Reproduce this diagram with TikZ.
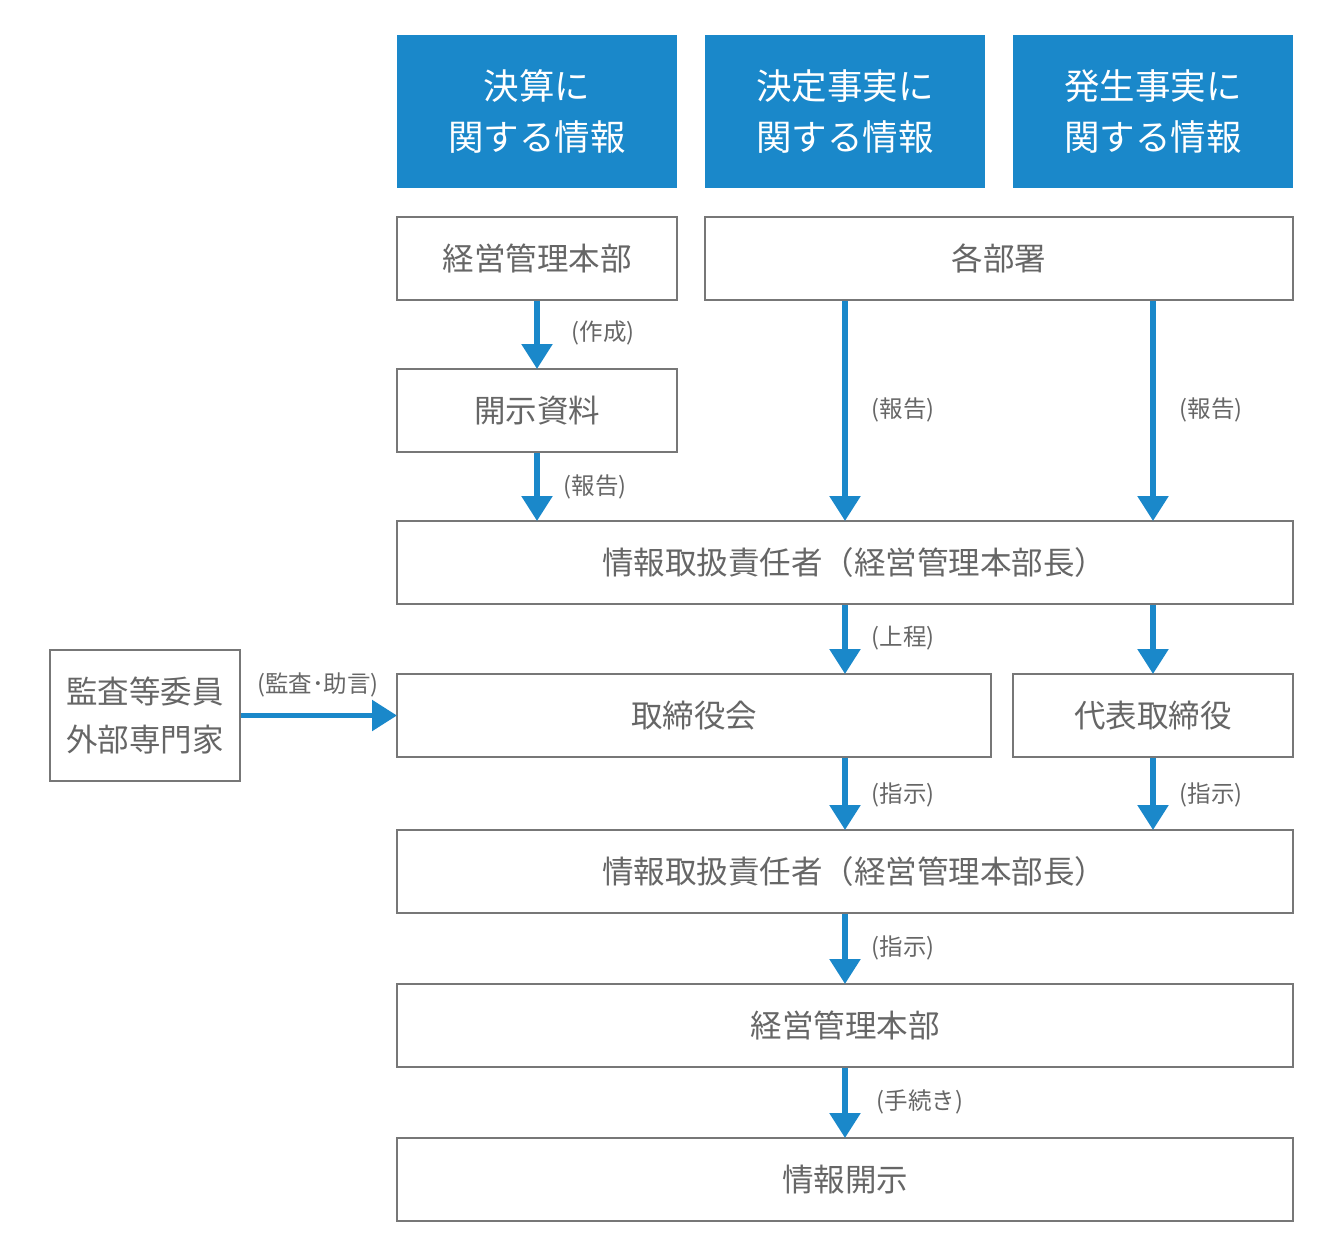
\documentclass[tikz,border=0pt]{standalone}
\usepackage{fontspec}
\setmainfont{Noto Sans CJK JP}
\usetikzlibrary{arrows.meta}
\definecolor{hblue}{HTML}{1A88CA}
\definecolor{bgray}{HTML}{777777}
\definecolor{tgray}{HTML}{666666}
\begin{document}
\begin{tikzpicture}[x=1pt,y=-1pt,
  hdr/.style={fill=hblue,draw=none,text=white,minimum width=280pt,minimum height=153pt,inner sep=0pt,align=center,font=\fontsize{35.5}{51}\selectfont},
  box/.style={draw=bgray,line width=2pt,fill=white,text=tgray,minimum height=83pt,inner sep=0pt,align=center,font=\fontsize{31.5}{48}\selectfont},
  flow/.style={draw=hblue,line width=5.5pt,-{Triangle[width=30pt,length=25pt]},shorten >=-1pt},
  lbl/.style={text=tgray,inner sep=0pt,font=\fontsize{23.5}{27}\selectfont}
]
\useasboundingbox (0,0) rectangle (1344,1256);
\node[hdr] (hd1) at (537,111.5) {決算に\\関する情報};
\node[hdr] (hd2) at (845,111.5) {決定事実に\\関する情報};
\node[hdr] (hd3) at (1153,111.5) {発生事実に\\関する情報};
\node[box,minimum width=280pt] (kei1) at (537,258.5) {経営管理本部};
\node[box,minimum width=588pt] (bu) at (999,258.5) {各部署};
\node[box,minimum width=280pt] (kaiji) at (537,410.5) {開示資料};
\node[box,minimum width=896pt] (h1) at (845,562.5) {\kern18pt 情報取扱責任者（経営管理本部長）};
\node[box,minimum width=594pt] (board) at (694,715.5) {取締役会};
\node[box,minimum width=280pt] (rep) at (1153,715.5) {代表取締役};
\node[box,minimum width=190pt,minimum height=131pt] (audit) at (145,715.5) {監査等委員\\外部専門家};
\node[box,minimum width=896pt] (h2) at (845,871.5) {\kern18pt 情報取扱責任者（経営管理本部長）};
\node[box,minimum width=896pt] (kei2) at (845,1025.5) {経営管理本部};
\node[box,minimum width=896pt] (disc) at (845,1179.5) {情報開示};

\draw[flow] (kei1.south) -- (kaiji.north);
\draw[flow] (kaiji.south) -- (h1.north -| kaiji.south);
\draw[flow] (bu.south -| h1.north) -- (h1.north);
\draw[flow] (bu.south -| rep.north) -- (h1.north -| rep.north);
\draw[flow] (h1.south) -- (board.north -| h1.south);
\draw[flow] (h1.south -| rep.north) -- (rep.north);
\draw[flow] (audit.east) -- (board.west);
\draw[flow] (board.south -| h1.south) -- (h2.north);
\draw[flow] (rep.south) -- (h2.north -| rep.south);
\draw[flow] (h2.south) -- (kei2.north);
\draw[flow] (kei2.south) -- (disc.north);

\node[lbl] (l1) at (603,333) {(作成)};
\node[lbl] (l2) at (595,487) {(報告)};
\node[lbl] (l3) at (903,410) {(報告)};
\node[lbl] (l4) at (1211,410) {(報告)};
\node[lbl] (l5) at (903,638) {(上程)};
\node[lbl] (l6) at (318,685) {(監査･助言)};
\node[lbl] (l7) at (903,795) {(指示)};
\node[lbl] (l8) at (1211,795) {(指示)};
\node[lbl] (l9) at (903,948) {(指示)};
\node[lbl] (l10) at (920,1102) {(手続き)};
\end{tikzpicture}
\end{document}
